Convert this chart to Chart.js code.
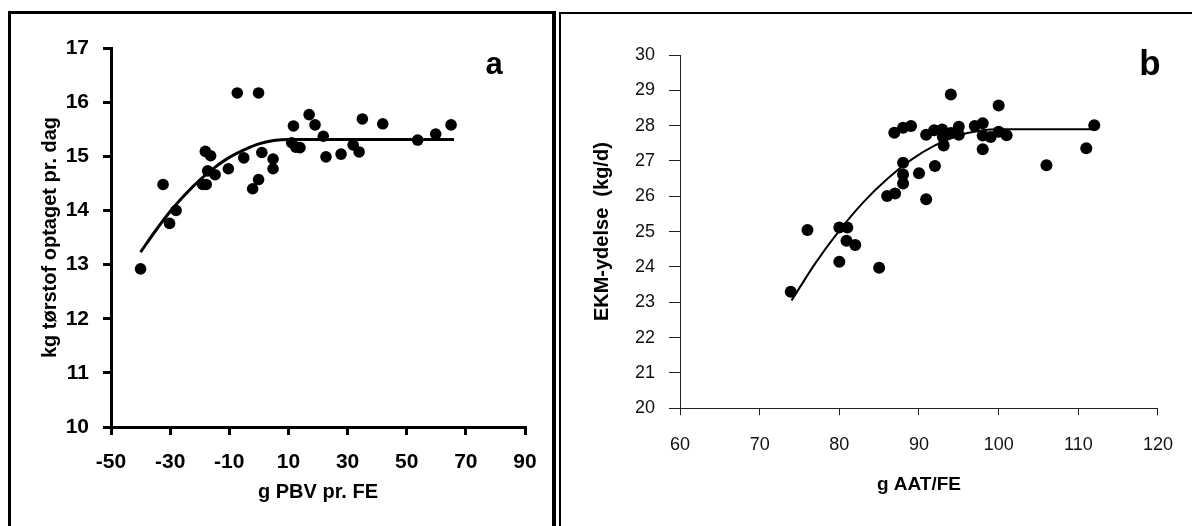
<!DOCTYPE html>
<html>
<head>
<meta charset="utf-8">
<script src="https://cdn.jsdelivr.net/npm/chart.js@4.4.1/dist/chart.umd.min.js"></script>
<style>
html,body{margin:0;padding:0;background:#fff;}
body{width:1192px;height:526px;position:relative;overflow:hidden;font-family:"Liberation Sans",Arial,sans-serif;}
#frameA{position:absolute;left:8px;top:11px;width:541px;height:540px;border-left:3px solid #000;border-top:3px solid #000;border-right:4px solid #000;}
#frameB{position:absolute;left:559px;top:12px;width:640px;height:540px;border-left:2px solid #000;border-top:2px solid #000;}
canvas{position:absolute;top:0;}
#cA{left:0;}
#cB{left:560px;}
.tag{position:absolute;font-weight:bold;color:#000;transform:translate(-50%,-50%);line-height:1;}
#tagA{left:494px;top:63px;font-size:31px;}
#tagB{left:1150px;top:62px;font-size:35px;}
</style>
</head>
<body>
<div id="frameA"></div>
<div id="frameB"></div>
<canvas id="cA" width="552" height="526"></canvas>
<canvas id="cB" width="632" height="526"></canvas>
<div class="tag" id="tagA">a</div>
<div class="tag" id="tagB">b</div>
<script>
// ---------- Panel a data ----------
const aTitleX = 'g PBV pr. FE';
const aTitleY = 'kg tørstof optaget pr. dag';
const aPbv = [-40.0,-32.4,-30.2,-28.0,-19.0,-17.8,-18.1,-16.3,-17.3,-14.8,-10.3,-7.3,-5.1,-2.1,-0.1,-0.1,1.0,4.8,4.8,11.7,11.1,12.5,13.9,17.0,19.0,21.8,22.7,27.8,31.9,33.9,35.0,41.9,53.7,59.8,65.0];
const aTs  = [12.92,14.48,13.76,14.00,14.48,14.48,15.09,15.01,14.73,14.66,14.77,16.17,14.97,14.40,16.17,14.57,15.07,14.95,14.77,15.56,15.25,15.17,15.16,15.77,15.58,15.37,14.99,15.04,15.21,15.08,15.69,15.60,15.30,15.41,15.58];
const aCurveX = [-40,-35,-30,-25,-20,-15,-10,-5,0,5,10,66];
const aCurveY = [13.23,13.62,13.98,14.29,14.56,14.79,14.98,15.12,15.23,15.29,15.31,15.31];

// ---------- Panel b data ----------
const bTitleX = 'g AAT/FE';
const bTitleY = 'EKM-ydelse  (kg/d)';
const bAat = [73.9,76.0,80.0,81.0,80.9,82.0,80.0,85.0,86.0,87.0,88.0,88.0,88.0,90.0,90.9,92.0,86.9,88.0,89.0,90.9,91.9,92.9,93.0,93.1,94.0,94.0,95.0,95.0,97.0,98.0,98.0,98.0,99.0,100.0,100.0,101.0,106.0,111.0,112.0];
const bEkm = [23.3,25.05,25.12,25.12,24.74,24.62,24.15,23.98,26.01,26.08,26.36,26.62,26.95,26.65,25.92,26.86,27.80,27.94,27.99,27.74,27.87,27.89,27.68,27.44,28.88,27.79,27.97,27.74,27.99,28.07,27.72,27.33,27.68,28.57,27.83,27.73,26.88,27.36,28.01];
const bCurveX = [74,77,80,83,86,89,92,95,98,100,112];
const bCurveY = [23.05,24.11,25.03,25.83,26.49,27.03,27.44,27.72,27.87,27.90,27.90];

const FAM = '"Liberation Sans", Arial, sans-serif';
const toPts = (xs, ys) => xs.map((x, i) => ({x: x, y: ys[i]}));

// ---------- Panel a ----------
new Chart(document.getElementById('cA'), {
  type: 'scatter',
  data: {
    datasets: [
      {data: toPts(aCurveX, aCurveY), showLine: true, borderColor: '#000', borderWidth: 3, pointRadius: 0, cubicInterpolationMode: 'monotone', fill: false, order: 2},
      {data: toPts(aPbv, aTs), backgroundColor: '#000', borderColor: '#000', pointRadius: 5.8, pointBorderWidth: 0, order: 1}
    ]
  },
  options: {
    responsive: false, animation: false, devicePixelRatio: 1,
    layout: {padding: {left: 0, top: 48, right: 27, bottom: 21.5}},
    plugins: {legend: {display: false}, tooltip: {enabled: false}},
    scales: {
      x: {
        type: 'linear', min: -50, max: 90,
        ticks: {stepSize: 20, color: '#000', padding: 15, font: {family: FAM, size: 21, weight: 'bold'}},
        grid: {display: true, drawOnChartArea: false, drawTicks: true, tickLength: 8, color: '#000', lineWidth: 3},
        border: {display: true, color: '#000', width: 3},
        title: {display: true, text: aTitleX, color: '#000', padding: 0, font: {family: FAM, size: 20, weight: 'bold'}},
        afterFit: s => { s.height = 77.5; }
      },
      y: {
        type: 'linear', min: 10, max: 17,
        ticks: {stepSize: 1, color: '#000', padding: 14, font: {family: FAM, size: 21, weight: 'bold'}},
        grid: {display: true, drawOnChartArea: false, drawTicks: true, tickLength: 8, color: '#000', lineWidth: 3},
        border: {display: true, color: '#000', width: 3},
        title: {display: true, text: aTitleY, color: '#000', padding: {top: 38, bottom: 0}, font: {family: FAM, size: 20, weight: 'bold'}},
        afterFit: s => { s.width = 111; }
      }
    }
  }
});

// ---------- Panel b ----------
new Chart(document.getElementById('cB'), {
  type: 'scatter',
  data: {
    datasets: [
      {data: toPts(bCurveX, bCurveY), showLine: true, borderColor: '#000', borderWidth: 2, pointRadius: 0, cubicInterpolationMode: 'monotone', fill: false, order: 2},
      {data: toPts(bAat, bEkm), backgroundColor: '#000', borderColor: '#000', pointRadius: 6, pointBorderWidth: 0, order: 1}
    ]
  },
  options: {
    responsive: false, animation: false, devicePixelRatio: 1,
    layout: {padding: {left: 0, top: 55, right: 30, bottom: 29.6}},
    plugins: {legend: {display: false}, tooltip: {enabled: false}},
    scales: {
      x: {
        type: 'linear', min: 60, max: 120,
        ticks: {stepSize: 10, color: '#111', padding: 19, font: {family: FAM, size: 18}},
        grid: {display: true, drawOnChartArea: false, drawTicks: true, tickLength: 7, color: '#222', lineWidth: 1},
        border: {display: true, color: '#222', width: 1},
        title: {display: true, text: bTitleX, color: '#000', padding: 0, font: {family: FAM, size: 19, weight: 'bold'}},
        afterFit: s => { s.height = 88.1; }
      },
      y: {
        type: 'linear', min: 20, max: 30,
        ticks: {stepSize: 1, color: '#111', padding: 14, font: {family: FAM, size: 18}},
        grid: {display: true, drawOnChartArea: false, drawTicks: true, tickLength: 11, color: '#222', lineWidth: 1},
        border: {display: true, color: '#222', width: 1},
        title: {display: true, text: bTitleY, color: '#000', padding: {top: 30, bottom: 0}, font: {family: FAM, size: 20, weight: 'bold'}},
        afterFit: s => { s.width = 120; }
      }
    }
  }
});
</script>
</body>
</html>
